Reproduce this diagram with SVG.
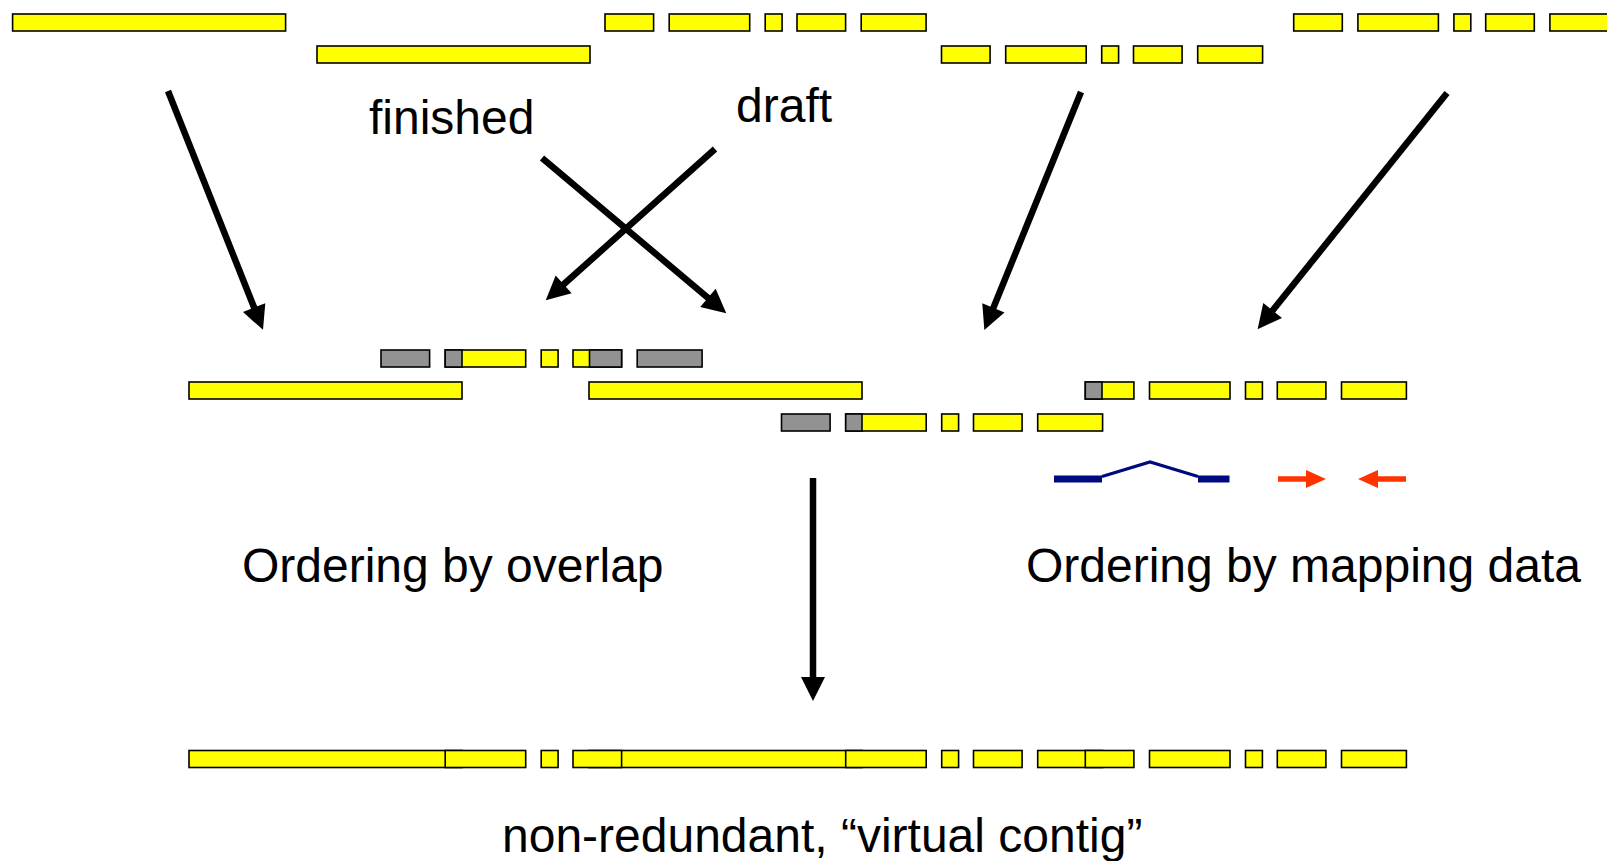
<svg xmlns="http://www.w3.org/2000/svg" width="1607" height="861" viewBox="0 0 1607 861">
<style>
.y{fill:#ffff00;stroke:#000;stroke-width:1.6}
.g{fill:#929292;stroke:#000;stroke-width:1.6}
.t{font-family:"Liberation Sans",Arial,sans-serif;font-size:48px;fill:#000}
.a{stroke:#000;stroke-width:6.5;fill:none;marker-end:url(#ah)}
</style>
<defs>
<marker id="ah" markerUnits="userSpaceOnUse" orient="auto" refX="1" refY="0" markerWidth="30" markerHeight="30" overflow="visible">
<path d="M0,-12 L24,0 L0,12 z" fill="#000"/>
</marker>
<marker id="rh" markerUnits="userSpaceOnUse" orient="auto" refX="1" refY="0" markerWidth="30" markerHeight="30" overflow="visible">
<path d="M0,-9 L20,0 L0,9 z" fill="#ff3300"/>
</marker>
</defs>
<rect width="1607" height="861" fill="#fff"/>

<g id="finished-clone-1"><rect class="y" x="12.6" y="14" width="273" height="17"/></g>
<g id="finished-clone-2"><rect class="y" x="317" y="46" width="273" height="17"/></g>
<g id="draft-clone-1">
<rect class="y" x="605" y="14" width="48.6" height="17"/><rect class="y" x="669.2" y="14" width="80.5" height="17"/><rect class="y" x="765.2" y="14" width="16.9" height="17"/><rect class="y" x="797" y="14" width="48.6" height="17"/><rect class="y" x="861.2" y="14" width="64.9" height="17"/>
</g>
<g id="draft-clone-2">
<rect class="y" x="941.5" y="46" width="48.6" height="17"/><rect class="y" x="1005.7" y="46" width="80.5" height="17"/><rect class="y" x="1101.7" y="46" width="16.9" height="17"/><rect class="y" x="1133.5" y="46" width="48.6" height="17"/><rect class="y" x="1197.7" y="46" width="64.9" height="17"/>
</g>
<g id="draft-clone-3">
<rect class="y" x="1293.7" y="14" width="48.6" height="17"/><rect class="y" x="1357.9" y="14" width="80.5" height="17"/><rect class="y" x="1453.9" y="14" width="16.9" height="17"/><rect class="y" x="1485.7" y="14" width="48.6" height="17"/><rect class="y" x="1549.9" y="14" width="64.9" height="17"/>
</g>

<g id="label-finished"><text class="t" x="369" y="134">finished</text></g>
<g id="label-draft"><text class="t" x="736" y="122">draft</text></g>

<g id="overlap-draft-row">
<rect class="g" x="381" y="350" width="48.6" height="17"/>
<rect class="y" x="445.2" y="350" width="80.5" height="17"/><rect class="g" x="445.2" y="350" width="16.8" height="17"/>
<rect class="y" x="541.2" y="350" width="16.9" height="17"/>
<rect class="y" x="573" y="350" width="48.6" height="17"/><rect class="g" x="589.5" y="350" width="32.1" height="17"/>
<rect class="g" x="637.2" y="350" width="64.9" height="17"/>
</g>
<g id="overlap-finished-row">
<rect class="y" x="189" y="382" width="273" height="17"/>
<rect class="y" x="589" y="382" width="273" height="17"/>
</g>
<g id="mapped-draft-row-upper">
<rect class="y" x="1085.3" y="382" width="48.6" height="17"/><rect class="g" x="1085.3" y="382" width="16.7" height="17"/>
<rect class="y" x="1149.5" y="382" width="80.5" height="17"/>
<rect class="y" x="1245.5" y="382" width="16.9" height="17"/>
<rect class="y" x="1277.3" y="382" width="48.6" height="17"/>
<rect class="y" x="1341.5" y="382" width="64.9" height="17"/>
</g>
<g id="overlap-draft-row-lower">
<rect class="g" x="781.5" y="414" width="48.6" height="17"/>
<rect class="y" x="845.7" y="414" width="80.5" height="17"/><rect class="g" x="845.7" y="414" width="16.3" height="17"/>
<rect class="y" x="941.7" y="414" width="16.9" height="17"/>
<rect class="y" x="973.5" y="414" width="48.6" height="17"/>
<rect class="y" x="1037.7" y="414" width="64.9" height="17"/>
</g>

<g id="mapping-markers">
<line x1="1054" y1="479" x2="1102" y2="479" stroke="#000a80" stroke-width="7"/>
<line x1="1198" y1="479" x2="1229.5" y2="479" stroke="#000a80" stroke-width="7"/>
<polyline points="1102,476.5 1150,462 1198,476.5" fill="none" stroke="#000a80" stroke-width="3.2"/>
<line x1="1278" y1="479" x2="1307" y2="479" stroke="#ff3300" stroke-width="5.5" marker-end="url(#rh)"/>
<line x1="1406" y1="479" x2="1377" y2="479" stroke="#ff3300" stroke-width="5.5" marker-end="url(#rh)"/>
</g>

<g id="label-overlap"><text class="t" x="242" y="582">Ordering by overlap</text></g>
<g id="label-mapping"><text class="t" x="1026" y="582">Ordering by mapping data</text></g>

<g id="virtual-contig">
<rect class="y" x="189" y="750.5" width="273" height="17"/>
<rect class="y" x="445.2" y="750.5" width="80.5" height="17"/>
<rect class="y" x="541.2" y="750.5" width="16.9" height="17"/>
<rect class="y" x="589" y="750.5" width="273" height="17"/>
<rect class="y" x="573" y="750.5" width="48.6" height="17"/>
<rect class="y" x="845.7" y="750.5" width="80.5" height="17"/>
<rect class="y" x="941.7" y="750.5" width="16.9" height="17"/>
<rect class="y" x="973.5" y="750.5" width="48.6" height="17"/>
<rect class="y" x="1037.7" y="750.5" width="64.9" height="17"/>
<rect class="y" x="1085.3" y="750.5" width="48.6" height="17"/>
<rect class="y" x="1149.5" y="750.5" width="80.5" height="17"/>
<rect class="y" x="1245.5" y="750.5" width="16.9" height="17"/>
<rect class="y" x="1277.3" y="750.5" width="48.6" height="17"/>
<rect class="y" x="1341.5" y="750.5" width="64.9" height="17"/>
</g>
<g id="label-virtual-contig"><text class="t" x="502" y="852">non-redundant, “virtual contig”</text></g>

<g id="connectors">
<line class="a" x1="168" y1="91" x2="254.5" y2="308.5"/>
<line class="a" x1="542" y1="158" x2="708.7" y2="298.5"/>
<line class="a" x1="715" y1="149" x2="562.9" y2="285"/>
<line class="a" x1="1081" y1="92" x2="993" y2="308.8"/>
<line class="a" x1="1447" y1="93" x2="1272" y2="311.3"/>
<line class="a" x1="813" y1="478" x2="813" y2="678"/>
</g>
</svg>
